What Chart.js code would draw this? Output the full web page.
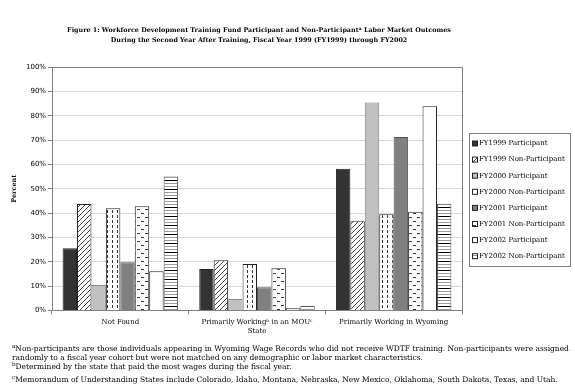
<!DOCTYPE html>
<html><head><meta charset="utf-8">
<script src="https://cdn.jsdelivr.net/npm/chart.js@4"></script>
<style>
html,body{margin:0;padding:0;background:#fff;}
#wrap{position:relative;width:575px;height:391px;overflow:hidden;}
#c{position:absolute;left:0;top:0;}
.t{position:absolute;left:0;width:518px;text-align:center;font:bold 6.4px 'DejaVu Serif';line-height:10px;color:#000;white-space:nowrap;}
.f{position:absolute;left:12px;font:7.5px 'DejaVu Serif';color:#000;white-space:nowrap;line-height:9px;}
.s{font-size:75%;position:relative;top:-0.45em;}
</style></head>
<body>
<div id="wrap">
<canvas id="c" width="575" height="391"></canvas>
<div class="t" style="top:25px">Figure 1: Workforce Development Training Fund Participant and Non-Participant<span class="s">a</span> Labor Market Outcomes</div>
<div class="t" style="top:35px">During the Second Year After Training, Fiscal Year 1999 (FY1999) through FY2002</div>
<div class="f" style="top:344px"><span class="s">a</span>Non-participants are those individuals appearing in Wyoming Wage Records who did not receive WDTF training. Non-participants were assigned</div>
<div class="f" style="top:353px">randomly to a fiscal year cohort but were not matched on any demographic or labor market characteristics.</div>
<div class="f" style="top:362px"><span class="s">b</span>Determined by the state that paid the most wages during the fiscal year.</div>
<div class="f" style="top:375px"><span class="s">c</span>Memorandum of Understanding States include Colorado, Idaho, Montana, Nebraska, New Mexico, Oklahoma, South Dakota, Texas, and Utah.</div>
</div>
<script>
const categories = ['Not Found', ['Primarily Workingᵇ in an MOUᶜ', 'State'], 'Primarily Working in Wyoming'];
const seriesNames = ['FY1999 Participant','FY1999 Non-Participant','FY2000 Participant','FY2000 Non-Participant','FY2001 Participant','FY2001 Non-Participant','FY2002 Participant','FY2002 Non-Participant'];
const fy1999Participant    = [25.6, 17.0, 58.2];
const fy1999NonParticipant = [43.7, 20.6, 36.7];
const fy2000Participant    = [10.5, 4.7, 85.4];
const fy2000NonParticipant = [42.0, 19.1, 39.5];
const fy2001Participant    = [19.8, 9.5, 71.3];
const fy2001NonParticipant = [42.8, 17.3, 40.6];
const fy2002Participant    = [16.1, 0.9, 83.9];
const fy2002NonParticipant = [55.0, 2.0, 43.8];
const yTicks = [0,10,20,30,40,50,60,70,80,90,100];

const canvas = document.getElementById('c');
const ctx = canvas.getContext('2d');

function tile(w, h, draw) {
  const t = document.createElement('canvas');
  t.width = w; t.height = h;
  const g = t.getContext('2d');
  g.fillStyle = '#fff'; g.fillRect(0,0,w,h);
  draw(g, w, h);
  return ctx.createPattern(t, 'repeat');
}
const pDiag = tile(5,5,(g,w,h)=>{
  g.strokeStyle='#111'; g.lineWidth=0.8;
  g.beginPath();
  g.moveTo(0,h); g.lineTo(w,0);
  g.moveTo(-1,1); g.lineTo(1,-1);
  g.moveTo(w-1,h+1); g.lineTo(w+1,h-1);
  g.stroke();
});
const pVDash = tile(5,5,(g)=>{ g.fillStyle='#333'; g.fillRect(2,0,1,3); });
const pHDash = tile(8,8,(g)=>{ g.fillStyle='#333'; g.fillRect(1,1,3,1); g.fillRect(5,5,3,1); });
const pHLines = tile(4,9,(g)=>{ g.fillStyle='#000'; g.fillRect(0,0,4,1); g.fillStyle='#999'; g.fillRect(0,3,4,1); g.fillRect(0,6,4,1); });

const seriesData = [fy1999Participant, fy1999NonParticipant, fy2000Participant, fy2000NonParticipant, fy2001Participant, fy2001NonParticipant, fy2002Participant, fy2002NonParticipant];
const fills = ['#333333', pDiag, '#c0c0c0', pVDash, '#808080', pHDash, '#ffffff', pHLines];
const borders = ['#222', '#222', '#888', '#222', '#555', '#222', '#222', '#555'];

const datasets = seriesData.map((d,i)=>({
  label: seriesNames[i], data: d, backgroundColor: fills[i], borderColor: borders[i],
  borderWidth: 1, categoryPercentage: 0.845, barPercentage: 1.0
}));

const frame = {
  id: 'frame',
  afterDatasetsDraw(chart) {
    const a = chart.chartArea, c = chart.ctx;
    c.save();
    c.strokeStyle = '#808080'; c.lineWidth = 1;
    c.beginPath();
    c.moveTo(a.left, a.top + 0.5); c.lineTo(a.right + 0.5, a.top + 0.5); c.lineTo(a.right + 0.5, a.bottom);
    c.stroke();
    c.restore();
  },
  afterDraw(chart) {
    const c = chart.ctx;
    c.save();
    c.strokeStyle = '#808080'; c.lineWidth = 1;
    c.strokeRect(469.5, 133.5, 101, 133);
    c.font = '7px "DejaVu Serif"';
    c.textBaseline = 'middle';
    chart.data.datasets.forEach((ds, i) => {
      const y = 143.5 + i * 16.1;
      c.fillStyle = ds.backgroundColor;
      c.fillRect(472.5, y - 2.5, 5, 5);
      c.strokeStyle = '#222';
      c.strokeRect(472.5, y - 2.5, 5, 5);
      c.fillStyle = '#000';
      c.fillText(ds.label, 479, y);
    });
    c.restore();
  }
};

new Chart(canvas, {
  type: 'bar',
  data: { labels: categories, datasets },
  options: {
    responsive: false, animation: false, devicePixelRatio: 1,
    layout: { padding: { left: 0, top: 67, right: 113, bottom: 0 } },
    plugins: { legend: { display: false }, tooltip: { enabled: false } },
    scales: {
      y: {
        min: 0, max: 100,
        afterBuildTicks: s => { s.ticks = yTicks.map(v => ({ value: v })); },
        afterFit: s => { s.width = 52; },
        ticks: { callback: v => v + '%', font: { family: 'DejaVu Sans', size: 7 }, color: '#000', padding: 2 },
        grid: { color: '#d9d9d9', tickLength: 4, tickColor: '#808080' },
        border: { color: '#808080' },
        title: { display: true, text: 'Percent', font: { family: 'DejaVu Serif', size: 6.5, weight: 'bold' }, color: '#000', padding: { top: 10, bottom: 0 } }
      },
      x: {
        afterFit: s => { s.height = 80.5; },
        ticks: { font: { family: 'DejaVu Serif', size: 7, lineHeight: 1.35 }, color: '#000', maxRotation: 0, autoSkip: false, padding: 3 },
        grid: { offset: true, drawOnChartArea: false, tickLength: 4, color: '#808080' },
        border: { color: '#808080' }
      }
    }
  },
  plugins: [frame]
});
</script>
</body></html>
